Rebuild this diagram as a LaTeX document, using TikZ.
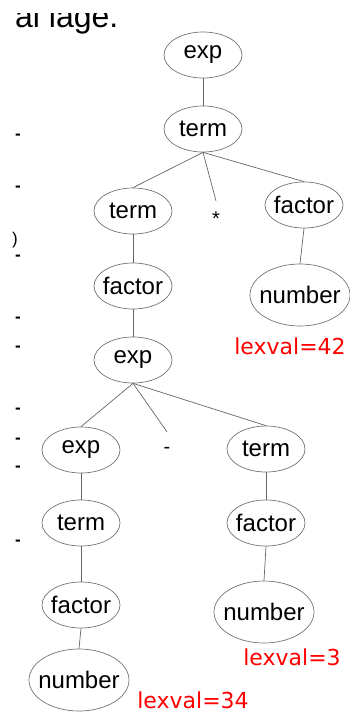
\documentclass[tikz,border=0pt]{standalone}
\usepackage{fontspec}
\setmainfont{Liberation Sans}
\newfontfamily\lexfont{DejaVu Sans}
\usetikzlibrary{shapes.geometric}

\tikzset{
  nodo/.style={ellipse, draw=black!55, line width=0.7pt, minimum width=78pt, minimum height=46pt, inner ysep=0pt, inner xsep=-10pt, font=\fontsize{24}{28}\selectfont},
  numero/.style={nodo, minimum width=100pt, minimum height=62pt},
  simbolo/.style={inner sep=0pt, minimum height=36pt, font=\fontsize{20}{24}\selectfont},
  ramo/.style={draw=black!60, line width=0.7pt},
  lexval/.style={text=red, inner sep=0pt, font=\lexfont\fontsize{22}{26}\selectfont},
  taglio/.style={inner sep=0pt, font=\bfseries\fontsize{17}{20}\selectfont}
}

\begin{document}
\begin{tikzpicture}[x=1pt, y=-1pt]
\useasboundingbox (0,0) rectangle (349,713);

% testo tagliato in alto
\begin{scope}
\clip (0,13) rectangle (200,40);
\node[anchor=base west, inner sep=0pt, font=\fontsize{32}{36}\selectfont] (titolo) at (15,27) {al lage.};
\end{scope}

% resti del testo a sinistra
\foreach \y [count=\i] in {137,189,258,320,349,411,441,469,543}
  \node[taglio] (d\i) at (18,\y) {-};
\node[inner sep=0pt, font=\fontsize{17}{20}\selectfont] (par) at (15,240) {)};

% nodi dell'albero
\node[nodo] (exp0) at (203,55) {exp};
\node[nodo] (term0) at (203,129) {term};
\node[nodo] (term1) at (133,211) {term};
\node[simbolo] (star) at (216,219) {*}; % operatore
\node[nodo] (fac1) at (304,205) {factor};
\node[nodo] (fac2) at (133,286) {factor};
\node[numero] (num1) at (300,295) {number};
\node[nodo] (exp1) at (133,360) {exp};
\node[nodo] (exp2) at (81,450) {exp};
\node[simbolo] (minus) at (167,450) {-}; % operatore
\node[nodo] (term2) at (266,449) {term};
\node[nodo] (term3) at (81,523) {term};
\node[nodo] (fac3) at (266,523) {factor};
\node[nodo] (fac4) at (81,605) {factor};
\node[numero] (num2) at (264,612) {number};
\node[numero] (num3) at (79,680) {number};

% valori lessicali
\node[lexval] (lex1) at (290,346) {lexval=42};
\node[lexval] (lex2) at (292,657) {lexval=3};
\node[lexval] (lex3) at (193,700) {lexval=34};

% rami
\draw[ramo] (exp0.south) -- (term0.north);
\draw[ramo] (term0.south) -- (term1.north);
\draw[ramo] (term0.south) -- (star.north);
\draw[ramo] (term0.south) -- (fac1.north);
\draw[ramo] (term1.south) -- (fac2.north);
\draw[ramo] (fac1.south) -- (num1.north);
\draw[ramo] (fac2.south) -- (exp1.north);
\draw[ramo] (exp1.south) -- (exp2.north);
\draw[ramo] (exp1.south) -- (minus.north);
\draw[ramo] (exp1.south) -- (term2.north);
\draw[ramo] (exp2.south) -- (term3.north);
\draw[ramo] (term3.south) -- (fac4.north);
\draw[ramo] (fac4.south) -- (num3.north);
\draw[ramo] (term2.south) -- (fac3.north);
\draw[ramo] (fac3.south) -- (num2.north);

\end{tikzpicture}
\end{document}
